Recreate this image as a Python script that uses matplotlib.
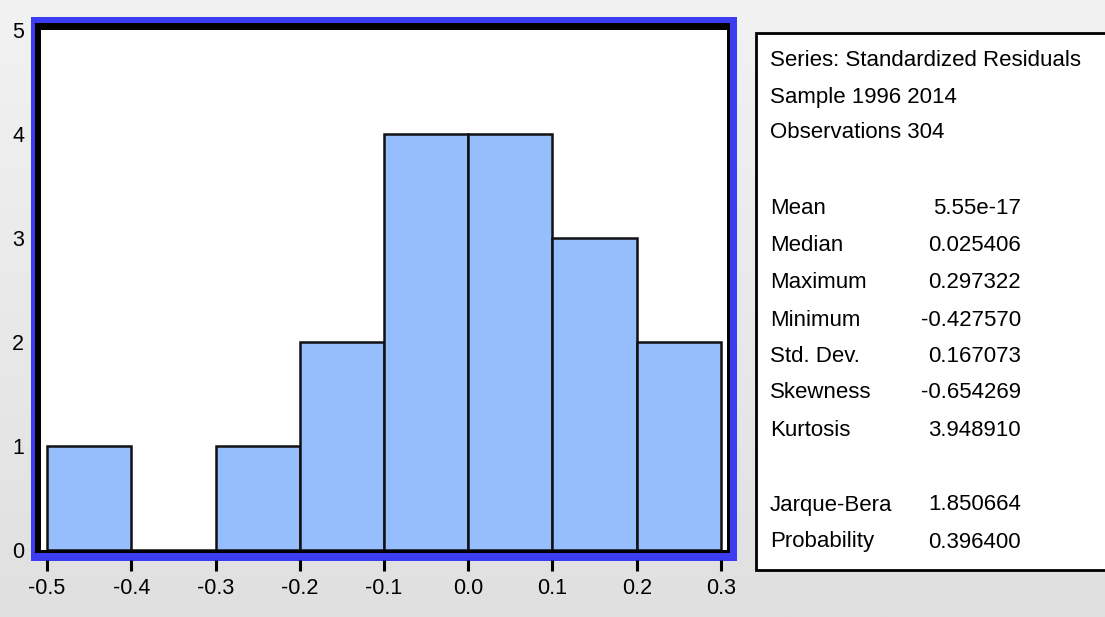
import numpy as np
import matplotlib
matplotlib.use("Agg")
import matplotlib.pyplot as plt
from matplotlib.patches import Rectangle
from matplotlib.lines import Line2D
from matplotlib.colors import LinearSegmentedColormap
import matplotlib.transforms as mtransforms

# ---- data ----
bin_left = [-0.5, -0.4, -0.3, -0.2, -0.1, 0.0, 0.1, 0.2]
bin_width = 0.1
counts = [1, 0, 1, 2, 4, 4, 3, 2]
x_ticks = [-0.5, -0.4, -0.3, -0.2, -0.1, 0.0, 0.1, 0.2, 0.3]
x_labels = ["-0.5", "-0.4", "-0.3", "-0.2", "-0.1", "0.0", "0.1", "0.2", "0.3"]
y_ticks = [0, 1, 2, 3, 4, 5]
header_lines = ["Series: Standardized Residuals", "Sample 1996 2014", "Observations 304"]
stat_names = ["Mean", "Median", "Maximum", "Minimum", "Std. Dev.", "Skewness",
              "Kurtosis", "Jarque-Bera", "Probability"]
stat_values = ["5.55e-17", "0.025406", "0.297322", "-0.427570", "0.167073",
               "-0.654269", "3.948910", "1.850664", "0.396400"]

W, H = 1105, 617
fig = plt.figure(figsize=(W / 100, H / 100), dpi=100)
fig.patch.set_facecolor("#ebebeb")

FONT = ["Liberation Sans", "DejaVu Sans"]

def fx(x):
    return x / W

def fy(y):
    return 1 - y / H

# gradient background
bg = fig.add_axes([0, 0, 1, 1], zorder=-10)
grad = np.linspace(0, 1, 256).reshape(-1, 1)
cmap = LinearSegmentedColormap.from_list("g", ["#f2f2f2", "#e0e0e0"])
bg.imshow(grad, aspect="auto", cmap=cmap, extent=[0, 1, 0, 1], origin="upper")
bg.set_axis_off()

# main axes (white plot area)
ax_l, ax_r, ax_t, ax_b = 41, 727, 30, 550
ax = fig.add_axes([fx(ax_l), fy(ax_b), fx(ax_r - ax_l), (ax_b - ax_t) / H], zorder=0)
ax.set_facecolor("white")
ax.bar(bin_left, counts, width=bin_width, align="edge", color="#96bdfc",
       edgecolor="#111111", linewidth=1.8, zorder=2)
xpad = 6 / 841.0
ax.set_xlim(-0.5 - xpad, 0.3 + xpad)
ax.set_ylim(0, 5)
ax.set_xticks(x_ticks)
ax.set_xticklabels(x_labels, fontsize=15.5, family=FONT)
ax.set_yticks(y_ticks)
ax.set_yticklabels([str(v) for v in y_ticks], fontsize=15.5, family=FONT)
ax.tick_params(axis="x", length=20 * 0.72, width=2, direction="out", pad=6, color="black")
ax.tick_params(axis="y", length=0, pad=12)
for s in ax.spines.values():
    s.set_visible(False)

# frame: blue outer and black inner strips (in pixel coords)
def strip(x0, y0, x1, y1, color):
    r = Rectangle((fx(x0), fy(y1)), fx(x1 - x0), (y1 - y0) / H,
                  transform=fig.transFigure, facecolor=color, edgecolor="none", zorder=5)
    fig.add_artist(r)

blue = "#3c3cf2"
strip(31, 17, 737, 23, blue)
strip(31, 553, 737, 561, blue)
strip(31, 17, 35, 561, blue)
strip(730, 17, 737, 561, blue)
strip(35, 23, 730, 30, "black")
strip(35, 550, 730, 553, "black")
strip(35, 23, 41, 553, "black")
strip(727, 23, 730, 553, "black")

# tick marks below the frame
trans = mtransforms.blended_transform_factory(ax.transData, fig.transFigure)
for t in x_ticks:
    fig.add_artist(Line2D([t, t], [fy(571), fy(560)], transform=trans,
                          color="black", linewidth=2.2, zorder=8,
                          solid_capstyle="butt"))

# stats box
box = Rectangle((fx(756), fy(570)), fx(1200 - 756), (570 - 33) / H,
                transform=fig.transFigure, facecolor="white", edgecolor="black",
                linewidth=2, zorder=5)
fig.add_artist(box)

header_y = [60, 97, 133]
stat_y = [208, 245, 283, 320, 357, 393, 430, 505, 542]
for txt, y in zip(header_lines, header_y):
    fig.text(fx(770), fy(y), txt, ha="left", va="center", fontsize=16,
             family=FONT, zorder=6)
for name, val, y in zip(stat_names, stat_values, stat_y):
    fig.text(fx(770), fy(y), name, ha="left", va="center", fontsize=16,
             family=FONT, zorder=6)
    fig.text(fx(1021), fy(y), val, ha="right", va="center", fontsize=16,
             family=FONT, zorder=6)

fig.savefig("out.png", dpi=100, facecolor=fig.get_facecolor())
